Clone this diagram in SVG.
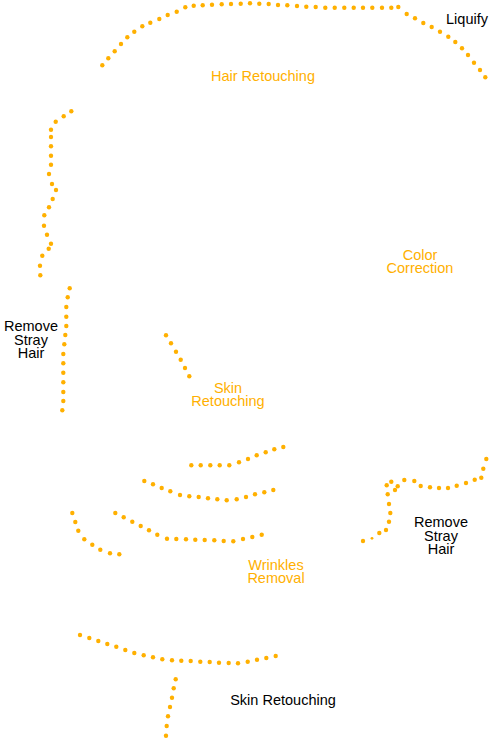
<svg xmlns="http://www.w3.org/2000/svg" width="500" height="750" viewBox="0 0 500 750">
<style>
circle{fill:#FFB000}
text{font-family:"Liberation Sans",Arial,sans-serif;font-size:14.5px;text-anchor:middle}
.o{fill:#FFB000}
.k{fill:#000}
</style>
<rect width="500" height="750" fill="#fff"/>
<g id="connectors">
<g id="hair-line">
<circle cx="102.3" cy="65.3" r="2.2"/><circle cx="108.3" cy="58.3" r="2.2"/><circle cx="114.7" cy="51.3" r="2.2"/><circle cx="121" cy="44" r="2.2"/><circle cx="127.3" cy="37.3" r="2.2"/><circle cx="134.3" cy="31.7" r="2.2"/><circle cx="142.3" cy="26.3" r="2.2"/><circle cx="150.3" cy="22.7" r="2.2"/><circle cx="159.3" cy="19" r="2.2"/><circle cx="167.7" cy="15" r="2.2"/><circle cx="176.7" cy="11.7" r="2.2"/><circle cx="185.3" cy="7.3" r="2.2"/><circle cx="193.7" cy="5.7" r="2.2"/><circle cx="202.7" cy="5.3" r="2.2"/><circle cx="212" cy="4.7" r="2.2"/><circle cx="221.7" cy="4.3" r="2.2"/><circle cx="231" cy="4" r="2.2"/><circle cx="240.7" cy="3.7" r="2.2"/><circle cx="250" cy="3.3" r="2.2"/><circle cx="259.3" cy="3.7" r="2.2"/><circle cx="268.7" cy="4" r="2.2"/><circle cx="278" cy="5" r="2.2"/><circle cx="287.3" cy="5.3" r="2.2"/><circle cx="297" cy="6" r="2.2"/><circle cx="306.3" cy="6.7" r="2.2"/><circle cx="315.7" cy="7" r="2.2"/><circle cx="325.3" cy="7.7" r="2.2"/><circle cx="334.7" cy="7.7" r="2.2"/><circle cx="344.3" cy="7.7" r="2.2"/><circle cx="353.7" cy="7.7" r="2.2"/><circle cx="363" cy="7.7" r="2.2"/><circle cx="372.3" cy="7.7" r="2.2"/><circle cx="382" cy="7.7" r="2.2"/><circle cx="391.3" cy="7.7" r="2.2"/><circle cx="398.3" cy="7" r="2.2"/><circle cx="406.7" cy="14" r="2.2"/><circle cx="415" cy="18.3" r="2.2"/><circle cx="423.3" cy="23" r="2.2"/><circle cx="431.7" cy="27" r="2.2"/><circle cx="440" cy="31.7" r="2.2"/><circle cx="448.3" cy="36.7" r="2.2"/><circle cx="455.3" cy="42" r="2.2"/><circle cx="462" cy="48.3" r="2.2"/><circle cx="468" cy="55" r="2.2"/><circle cx="474" cy="62.7" r="2.2"/><circle cx="480" cy="70" r="2.2"/><circle cx="485.3" cy="77.3" r="2.2"/>
</g>
<g id="left-outline">
<circle cx="71.3" cy="111.3" r="2.2"/><circle cx="63.7" cy="116.3" r="2.2"/><circle cx="55.7" cy="121.7" r="2.2"/><circle cx="51" cy="129.7" r="2.2"/><circle cx="51" cy="137" r="2.2"/><circle cx="51" cy="146.3" r="2.2"/><circle cx="51" cy="155.7" r="2.2"/><circle cx="51" cy="164.7" r="2.2"/><circle cx="49" cy="174" r="2.2"/><circle cx="52" cy="184" r="2.2"/><circle cx="56" cy="190" r="2.2"/><circle cx="52.7" cy="199" r="2.2"/><circle cx="49" cy="207.3" r="2.2"/><circle cx="44.3" cy="215.3" r="2.2"/><circle cx="44" cy="225.7" r="2.2"/><circle cx="47" cy="234.7" r="2.2"/><circle cx="51" cy="243.7" r="2.2"/><circle cx="48.7" cy="248.7" r="2.2"/><circle cx="42.3" cy="255.7" r="2.2"/><circle cx="40" cy="265.7" r="2.2"/><circle cx="40.3" cy="275.3" r="2.2"/>
</g>
<g id="left-hair">
<circle cx="69.7" cy="288.3" r="2.2"/><circle cx="67.7" cy="297.3" r="2.2"/><circle cx="66.3" cy="307" r="2.2"/><circle cx="66.3" cy="316.7" r="2.2"/><circle cx="66.3" cy="326" r="2.2"/><circle cx="65.3" cy="335" r="2.2"/><circle cx="64.3" cy="344.3" r="2.2"/><circle cx="63.3" cy="354" r="2.2"/><circle cx="63.3" cy="363.3" r="2.2"/><circle cx="63.3" cy="372.7" r="2.2"/><circle cx="63.3" cy="382.3" r="2.2"/><circle cx="63.3" cy="392" r="2.2"/><circle cx="63.3" cy="401" r="2.2"/><circle cx="62.3" cy="410.3" r="2.2"/>
</g>
<g id="skin-diag">
<circle cx="166" cy="335.3" r="2.2"/><circle cx="171" cy="343.3" r="2.2"/><circle cx="176" cy="351.7" r="2.2"/><circle cx="180.7" cy="359.7" r="2.2"/><circle cx="185" cy="368" r="2.2"/><circle cx="189.3" cy="376.3" r="2.2"/>
</g>
<g id="wrinkle-1">
<circle cx="191.3" cy="465.3" r="2.2"/><circle cx="200.7" cy="465.3" r="2.2"/><circle cx="210.3" cy="465.3" r="2.2"/><circle cx="219.7" cy="465.3" r="2.2"/><circle cx="229.3" cy="465.3" r="2.2"/><circle cx="239" cy="462.3" r="2.2"/><circle cx="248" cy="459" r="2.2"/><circle cx="256.7" cy="455.3" r="2.2"/><circle cx="265.7" cy="452.3" r="2.2"/><circle cx="274.3" cy="449.3" r="2.2"/><circle cx="283.3" cy="447" r="2.2"/>
</g>
<g id="wrinkle-2">
<circle cx="144.3" cy="481" r="2.2"/><circle cx="153" cy="484.3" r="2.2"/><circle cx="161.7" cy="488" r="2.2"/><circle cx="170.3" cy="491.3" r="2.2"/><circle cx="180" cy="495" r="2.2"/><circle cx="189.3" cy="496.3" r="2.2"/><circle cx="198.7" cy="497" r="2.2"/><circle cx="208" cy="498.3" r="2.2"/><circle cx="217.3" cy="499.3" r="2.2"/><circle cx="226.7" cy="500.3" r="2.2"/><circle cx="236.7" cy="499.3" r="2.2"/><circle cx="246" cy="497" r="2.2"/><circle cx="255" cy="494.3" r="2.2"/><circle cx="264.3" cy="492.3" r="2.2"/><circle cx="273.3" cy="490" r="2.2"/>
</g>
<g id="wrinkle-3">
<circle cx="115.3" cy="513" r="2.2"/><circle cx="123.7" cy="517.3" r="2.2"/><circle cx="132.3" cy="521.7" r="2.2"/><circle cx="140.7" cy="526" r="2.2"/><circle cx="149" cy="530.3" r="2.2"/><circle cx="157.3" cy="534.7" r="2.2"/><circle cx="167" cy="538.7" r="2.2"/><circle cx="176.3" cy="539" r="2.2"/><circle cx="186" cy="539.3" r="2.2"/><circle cx="195.3" cy="539.7" r="2.2"/><circle cx="204.7" cy="540" r="2.2"/><circle cx="214.3" cy="540.3" r="2.2"/><circle cx="223.7" cy="541" r="2.2"/><circle cx="233.3" cy="541.3" r="2.2"/><circle cx="243" cy="539" r="2.2"/><circle cx="252.3" cy="537" r="2.2"/><circle cx="261.7" cy="534.7" r="2.2"/>
</g>
<g id="wrinkle-4">
<circle cx="72.3" cy="513" r="2.2"/><circle cx="75.3" cy="522" r="2.2"/><circle cx="78.3" cy="530.7" r="2.2"/><circle cx="84.3" cy="539.3" r="2.2"/><circle cx="92.3" cy="544.7" r="2.2"/><circle cx="100.3" cy="549.7" r="2.2"/><circle cx="110" cy="553.3" r="2.2"/><circle cx="119.3" cy="554.3" r="2.2"/>
</g>
<g id="right-hair">
<circle cx="486.3" cy="459" r="2.2"/><circle cx="483.3" cy="468.7" r="2.2"/><circle cx="481.3" cy="477.7" r="2.2"/><circle cx="474.7" cy="479.7" r="2.2"/><circle cx="466" cy="483" r="2.2"/><circle cx="456.7" cy="485.7" r="2.2"/><circle cx="448" cy="488" r="2.2"/><circle cx="439" cy="488" r="2.2"/><circle cx="430" cy="487.3" r="2.2"/><circle cx="420.7" cy="486" r="2.2"/><circle cx="414.3" cy="481" r="2.2"/><circle cx="404.3" cy="480" r="2.2"/><circle cx="397.7" cy="486.3" r="2.2"/><circle cx="395" cy="490" r="2.2"/><circle cx="391.3" cy="481.7" r="2.2"/><circle cx="386.7" cy="485.3" r="2.2"/><circle cx="387.7" cy="494.3" r="2.2"/><circle cx="389" cy="504" r="2.2"/><circle cx="390.3" cy="513" r="2.2"/><circle cx="389" cy="521.7" r="2.2"/><circle cx="386" cy="530" r="2.2"/><circle cx="379.3" cy="533" r="2.2"/><circle cx="372" cy="538.3" r="1.4"/><circle cx="363" cy="541" r="2.2"/>
</g>
<g id="chin">
<circle cx="80" cy="635" r="2.2"/><circle cx="89.3" cy="638" r="2.2"/><circle cx="98.3" cy="641" r="2.2"/><circle cx="107.3" cy="644" r="2.2"/><circle cx="116.3" cy="646.7" r="2.2"/><circle cx="125.3" cy="650" r="2.2"/><circle cx="134.3" cy="653" r="2.2"/><circle cx="143.7" cy="655.3" r="2.2"/><circle cx="153" cy="657.3" r="2.2"/><circle cx="162.3" cy="659.3" r="2.2"/><circle cx="172" cy="660.3" r="2.2"/><circle cx="181.3" cy="660.7" r="2.2"/><circle cx="190.7" cy="661" r="2.2"/><circle cx="200.3" cy="661.7" r="2.2"/><circle cx="209.7" cy="662" r="2.2"/><circle cx="219" cy="662.7" r="2.2"/><circle cx="228.7" cy="663" r="2.2"/><circle cx="238" cy="663.3" r="2.2"/><circle cx="247.7" cy="661.7" r="2.2"/><circle cx="257" cy="659.7" r="2.2"/><circle cx="266.3" cy="658" r="2.2"/><circle cx="275.7" cy="656" r="2.2"/>
</g>
<g id="neck">
<circle cx="175.7" cy="679.3" r="2.2"/><circle cx="173.7" cy="688.3" r="2.2"/><circle cx="172" cy="697.7" r="2.2"/><circle cx="170" cy="707" r="2.2"/><circle cx="168" cy="716.3" r="2.2"/><circle cx="166.7" cy="726" r="2.2"/><circle cx="166" cy="735.7" r="2.2"/>
</g>
</g>
<g id="label-hair-retouching"><text class="o" x="263" y="81">Hair Retouching</text></g>
<g id="label-liquify"><text class="k" x="467" y="23.5">Liquify</text></g>
<g id="label-color-correction"><text class="o" x="420" y="259.5">Color</text><text class="o" x="420" y="273">Correction</text></g>
<g id="label-remove-stray-left"><text class="k" x="31" y="331">Remove</text><text class="k" x="31" y="344.5">Stray</text><text class="k" x="31" y="358">Hair</text></g>
<g id="label-skin-retouching-mid"><text class="o" x="228" y="392.5">Skin</text><text class="o" x="228" y="406">Retouching</text></g>
<g id="label-remove-stray-right"><text class="k" x="441" y="527">Remove</text><text class="k" x="441" y="540.5">Stray</text><text class="k" x="441" y="554">Hair</text></g>
<g id="label-wrinkles"><text class="o" x="276" y="569.5">Wrinkles</text><text class="o" x="276" y="583">Removal</text></g>
<g id="label-skin-retouching-bottom"><text class="k" x="283" y="705">Skin Retouching</text></g>
</svg>
